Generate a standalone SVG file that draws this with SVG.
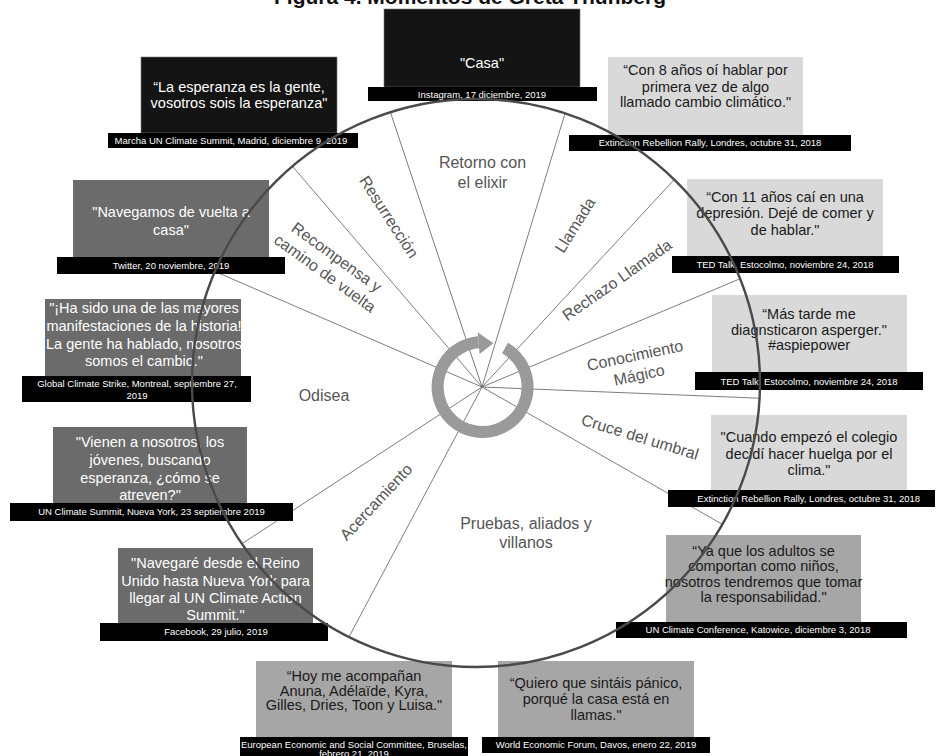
<svg xmlns="http://www.w3.org/2000/svg" width="940" height="756" viewBox="0 0 940 756">
<style>
text{font-family:"Liberation Sans",Arial,sans-serif}
.q{font-size:14.5px;text-anchor:middle}
.w{fill:#fff}
.d{fill:#1a1a1a}
.lb{font-size:9.5px;fill:#fff;text-anchor:middle}
.bar{fill:#000}
.blk{fill:#141414;stroke:#777;stroke-width:0.6}
.dg{fill:#6b6b6b}
.lg{fill:#d9d9d9}
.mg{fill:#a6a6a6}
.seg{font-size:16px;fill:#555;text-anchor:middle}
.ray{stroke:#6e6e6e;stroke-width:0.9;fill:none}
</style>
<defs>
<clipPath id="cc"><circle cx="476" cy="383" r="284"/></clipPath>
</defs>
<rect width="940" height="756" fill="#fff"/>
<text x="470" y="4" font-size="21" font-weight="bold" text-anchor="middle" fill="#111">Figura 4. Momentos de Greta Thunberg</text>

<g id="connectors">
<g clip-path="url(#cc)">
<line class="ray" x1="482" y1="387" x2="304" y2="-147"/>
<line class="ray" x1="482" y1="387" x2="104" y2="-53"/>
<line class="ray" x1="482" y1="387" x2="-36" y2="163"/>
<line class="ray" x1="482" y1="387" x2="4" y2="699"/>
<line class="ray" x1="482" y1="387" x2="218" y2="883"/>
<line class="ray" x1="482" y1="387" x2="958" y2="659"/>
<line class="ray" x1="482" y1="387" x2="978" y2="407"/>
<line class="ray" x1="482" y1="387" x2="978" y2="179"/>
<line class="ray" x1="482" y1="387" x2="862" y2="-23"/>
<line class="ray" x1="482" y1="387" x2="644" y2="-147"/>
</g>
<path d="M505,348 A45,45 0 1 1 478.6,342.2" fill="none" stroke="#9a9a9a" stroke-width="12"/>
<polygon points="477.7,332.2 479.6,354.1 493.4,343.3" fill="#9a9a9a"/>
</g>

<g id="segment-labels">
<text class="seg" x="482.5" y="168">Retorno con</text>
<text class="seg" x="482.5" y="188">el elixir</text>
<text class="seg" transform="translate(575,225) rotate(-58)" y="5.5">Llamada</text>
<text class="seg" transform="translate(617,280) rotate(-35)" y="5.5">Rechazo Llamada</text>
<g transform="translate(637,365) rotate(-12)">
<text class="seg" y="-4.3">Conocimiento</text>
<text class="seg" y="15.7">Mágico</text>
</g>
<text class="seg" transform="translate(640,437) rotate(17)" y="5.5">Cruce del umbral</text>
<text class="seg" x="526" y="529">Pruebas, aliados y</text>
<text class="seg" x="526" y="548">villanos</text>
<text class="seg" transform="translate(376,502) rotate(-47)" y="5.5">Acercamiento</text>
<text class="seg" x="324" y="401">Odisea</text>
<g transform="translate(331,265) rotate(36)">
<text class="seg" y="-4.3">Recompensa y</text>
<text class="seg" y="15.7">camino de vuelta</text>
</g>
<text class="seg" transform="translate(389,217) rotate(57)" y="5.5">Resurrección</text>
</g>

<g id="n-esperanza">
<rect class="blk" x="141" y="57" width="196" height="76"/>
<text class="q w" x="239" y="91.7" font-size="15">“La esperanza es la gente,</text>
<text class="q w" x="239" y="107.7" font-size="15">vosotros sois la esperanza"</text>
<rect class="bar" x="108" y="133" width="250" height="15"/>
<text class="lb" x="231" y="143.8">Marcha UN Climate Summit, Madrid, diciembre 9, 2019</text>
</g>

<g id="n-casa">
<rect class="blk" x="384" y="9" width="196" height="78"/>
<text class="q w" x="482" y="68">"Casa"</text>
<rect class="bar" x="368" y="87" width="229" height="14"/>
<text class="lb" x="482" y="97.5">Instagram, 17 diciembre, 2019</text>
</g>

<g id="n-con8">
<rect class="lg" x="608" y="57" width="195" height="78"/>
<text class="q d" x="705.5" y="75">“Con 8 años oí hablar por</text>
<text class="q d" x="705.5" y="91.5">primera vez de algo</text>
<text class="q d" x="705.5" y="107">llamado cambio climático."</text>
<rect class="bar" x="569" y="135" width="282" height="16"/>
<text class="lb" x="710" y="146.3">Extinction Rebellion Rally, Londres, octubre 31, 2018</text>
</g>

<g id="n-con11">
<rect class="lg" x="687" y="179" width="196" height="77"/>
<text class="q d" x="785" y="201.5">“Con 11 años caí en una</text>
<text class="q d" x="785" y="218">depresión. Dejé de comer y</text>
<text class="q d" x="785" y="235">de hablar."</text>
<rect class="bar" x="672" y="256" width="227" height="17"/>
<text class="lb" x="785" y="267.8">TED Talk, Estocolmo, noviembre 24, 2018</text>
</g>

<g id="n-mastarde">
<rect class="lg" x="712" y="295" width="195" height="77"/>
<text class="q d" x="809" y="319">“Más tarde me</text>
<text class="q d" x="809" y="335">diagnsticaron asperger."</text>
<text class="q d" x="809" y="350">#aspiepower</text>
<rect class="bar" x="695" y="372" width="228" height="18"/>
<text class="lb" x="809" y="384.5">TED Talk, Estocolmo, noviembre 24, 2018</text>
</g>

<g id="n-cuando">
<rect class="lg" x="711" y="415" width="196" height="75"/>
<text class="q d" x="809" y="441.5">"Cuando empezó el colegio</text>
<text class="q d" x="809" y="458.5">decidí hacer huelga por el</text>
<text class="q d" x="809" y="475">clima."</text>
<rect class="bar" x="668" y="490" width="267" height="17"/>
<text class="lb" x="808.7" y="501.8">Extinction Rebellion Rally, Londres, octubre 31, 2018</text>
</g>

<g id="n-yaque">
<rect class="mg" x="666" y="535" width="195" height="87"/>
<text class="q d" x="763.5" y="555.5">“Ya que los adultos se</text>
<text class="q d" x="763.5" y="570.5">comportan como niños,</text>
<text class="q d" x="763.5" y="586.5">nosotros tendremos que tomar</text>
<text class="q d" x="763.5" y="601.5">la responsabilidad."</text>
<rect class="bar" x="616" y="622" width="291" height="16"/>
<text class="lb" x="758" y="633.3">UN Climate Conference, Katowice, diciembre 3, 2018</text>
</g>

<g id="n-quiero">
<rect class="mg" x="498" y="661" width="196" height="76"/>
<text class="q d" x="596" y="688">“Quiero que sintáis  pánico,</text>
<text class="q d" x="596" y="704">porqué la casa está en</text>
<text class="q d" x="596" y="720">llamas."</text>
<rect class="bar" x="482" y="737" width="228" height="16"/>
<text class="lb" x="596" y="748.2">World Economic Forum, Davos, enero 22, 2019</text>
</g>

<g id="n-hoy">
<rect class="mg" x="256" y="661" width="196" height="76"/>
<text class="q d" x="354" y="681">“Hoy me acompañan</text>
<text class="q d" x="354" y="695.5">Anuna, Adélaïde, Kyra,</text>
<text class="q d" x="354" y="710">Gilles, Dries, Toon y Luisa."</text>
<rect class="bar" x="240" y="737" width="228" height="19"/>
<text class="lb" x="354" y="747.5">European Economic and Social Committee, Bruselas,</text>
<text class="lb" x="354" y="757">febrero 21, 2019</text>
</g>

<g id="n-navegare">
<rect class="dg" x="118" y="548" width="195" height="75"/>
<text class="q w" x="215.5" y="568">"Navegaré desde el Reino</text>
<text class="q w" x="215.5" y="585.5">Unido hasta Nueva York para</text>
<text class="q w" x="215.5" y="603">llegar al UN Climate Action</text>
<text class="q w" x="215.5" y="620">Summit."</text>
<rect class="bar" x="100" y="623" width="228" height="18"/>
<text class="lb" x="216" y="635.3">Facebook, 29 julio, 2019</text>
</g>

<g id="n-vienen">
<rect class="dg" x="53" y="427" width="194" height="76"/>
<text class="q w" x="150" y="447">"Vienen a nosotros, los</text>
<text class="q w" x="150" y="465">jóvenes, buscando</text>
<text class="q w" x="150" y="482.5">esperanza, ¿cómo se</text>
<text class="q w" x="150" y="499.5">atreven?"</text>
<rect class="bar" x="10" y="503" width="283" height="18"/>
<text class="lb" x="151.5" y="515.3">UN Climate Summit, Nueva York, 23 septiembre 2019</text>
</g>

<g id="n-hasido">
<rect class="dg" x="45" y="299" width="196" height="77"/>
<text class="q w" x="144" y="313">"¡Ha sido una de las mayores</text>
<text class="q w" x="144" y="331">manifestaciones de la historia!</text>
<text class="q w" x="144" y="348.5">La gente ha hablado, nosotros</text>
<text class="q w" x="144" y="366">somos el cambio."</text>
<rect class="bar" x="22" y="376" width="229" height="26"/>
<text class="lb" x="137" y="387.3">Global Climate Strike, Montreal, septiembre 27,</text>
<text class="lb" x="137" y="399">2019</text>
</g>

<g id="n-navegamos">
<rect class="dg" x="73" y="180" width="196" height="77"/>
<text class="q w" x="171" y="217">"Navegamos de vuelta a</text>
<text class="q w" x="171" y="235">casa"</text>
<rect class="bar" x="57" y="257" width="228" height="17"/>
<text class="lb" x="171" y="268.8">Twitter, 20 noviembre, 2019</text>
</g>

<g id="circle">
<circle cx="476" cy="383" r="284" fill="none" stroke="#4a4a4a" stroke-width="2.4"/>
</g>
</svg>
